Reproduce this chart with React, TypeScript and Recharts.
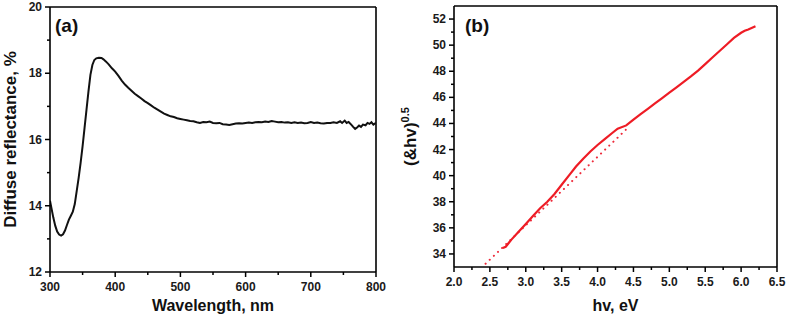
import React from 'react'
import { LineChart, Line, XAxis, YAxis, ReferenceLine, Label } from 'recharts'

const FONT = '"Liberation Sans", Arial, Helvetica, sans-serif'

// (a) diffuse reflectance spectrum
const wavelength = [
  300, 302, 305, 308, 311, 314, 317, 320, 323, 326, 329, 332, 335, 338, 341, 344, 347, 350,
  353, 356, 359, 362, 365, 368, 371, 375, 379, 382, 386, 390, 395, 400, 405, 410, 415, 420,
  425, 430, 435, 440, 445, 450, 455, 460, 465, 470, 475, 480, 485, 490, 495, 500, 505, 510,
  515, 520, 525, 530, 535, 540, 545, 550, 555, 560, 565, 570, 575, 580, 585, 590, 595, 600,
  605, 610, 615, 620, 625, 630, 635, 640, 645, 650, 655, 660, 665, 670, 675, 680, 685, 690,
  695, 700, 705, 710, 715, 720, 725, 730, 735, 740, 745, 748, 752, 755, 758, 762, 765, 768,
  771, 774, 777, 780, 784, 787, 790, 793, 796, 800,
]
const reflectance = [
  14.15, 13.95, 13.65, 13.4, 13.22, 13.13, 13.1, 13.14, 13.25, 13.42, 13.58, 13.7, 13.82, 14.05,
  14.45, 14.85, 15.3, 15.8, 16.35, 16.9, 17.45, 17.95, 18.25, 18.4, 18.45, 18.47, 18.46, 18.42,
  18.35, 18.27, 18.15, 18.05, 17.92, 17.78, 17.66, 17.56, 17.47, 17.38, 17.31, 17.24, 17.16,
  17.1, 17.03, 16.96, 16.9, 16.84, 16.78, 16.74, 16.7, 16.68, 16.64, 16.62, 16.6, 16.58, 16.56,
  16.55, 16.52, 16.5, 16.53, 16.52, 16.54, 16.5, 16.49, 16.5, 16.46, 16.45, 16.44, 16.46, 16.48,
  16.49, 16.48, 16.5, 16.51, 16.5, 16.52, 16.53, 16.52, 16.54, 16.53, 16.56, 16.54, 16.52,
  16.53, 16.51, 16.52, 16.5, 16.52, 16.5, 16.51, 16.49, 16.5, 16.53, 16.5, 16.51, 16.49, 16.48,
  16.5, 16.5, 16.52, 16.5, 16.55, 16.5, 16.57, 16.5, 16.53, 16.45, 16.38, 16.32, 16.36, 16.42,
  16.38, 16.45, 16.43, 16.5, 16.47, 16.52, 16.45, 16.5,
]
const aXMajor = [300, 400, 500, 600, 700, 800]
const aXMinor = [350, 450, 550, 650, 750]
const aYMajor = [12, 14, 16, 18, 20]
const aYMinor = [13, 15, 17, 19]

// (b) Tauc plot
const photonEnergy = [
  2.68, 2.72, 2.8, 2.9, 3.0, 3.1, 3.2, 3.3, 3.4, 3.5, 3.6, 3.7, 3.8, 3.9, 4.0, 4.1, 4.2, 4.28,
  4.4, 4.5, 4.6, 4.7, 4.8, 4.9, 5.0, 5.1, 5.2, 5.3, 5.4, 5.5, 5.6, 5.7, 5.8, 5.9, 6.0, 6.05,
  6.1, 6.2,
]
const taucValue = [
  34.45, 34.55, 35.1, 35.7, 36.3, 36.9, 37.5, 38.0, 38.6, 39.3, 40.0, 40.7, 41.3, 41.85, 42.35,
  42.8, 43.25, 43.6, 43.85, 44.3, 44.72, 45.12, 45.53, 45.94, 46.36, 46.77, 47.18, 47.6, 48.05,
  48.55, 49.05, 49.55, 50.05, 50.55, 50.95, 51.1, 51.2, 51.45,
]
const fitEnergy = [2.44, 4.42]
const fitValue = [33.25, 43.65]
const bXMajor = [2, 2.5, 3, 3.5, 4, 4.5, 5, 5.5, 6, 6.5]
const bXMinor = [2.25, 2.75, 3.25, 3.75, 4.25, 4.75, 5.25, 5.75, 6.25]
const bYMajor = [34, 36, 38, 40, 42, 44, 46, 48, 50, 52]
const bYMinor = [35, 37, 39, 41, 43, 45, 47, 49, 51]

const aData = wavelength.map((w, i) => ({ x: w, y: reflectance[i] }))
const bData = photonEnergy.map((e, i) => ({ x: e, y: taucValue[i] }))
const fitData = fitEnergy.map((e, i) => ({ x: e, y: fitValue[i] }))

const isIn = (list: number[], v: number) => list.some((m) => Math.abs(m - v) < 1e-6)

const tickText = { fontSize: 12, fontWeight: 'bold' as const, fontFamily: FONT, fill: '#1a1a1a' }
const titleText = { fontWeight: 'bold' as const, fontFamily: FONT, fill: '#111' }

const makeXTick = (majors: number[], fmt: (v: number) => string) => (props: any) => {
  const { x, y, payload } = props
  const major = isIn(majors, payload.value)
  return (
    <g>
      <line x1={x} x2={x} y1={y} y2={y + (major ? 5 : 3)} stroke="#000" strokeWidth={1.5} />
      {major && (
        <text x={x} y={y + 19} textAnchor="middle" {...tickText}>
          {fmt(payload.value)}
        </text>
      )}
    </g>
  )
}

const makeYTick = (majors: number[]) => (props: any) => {
  const { x, y, payload } = props
  const major = isIn(majors, payload.value)
  return (
    <g>
      <line x1={x} x2={x - (major ? 5 : 3)} y1={y} y2={y} stroke="#000" strokeWidth={1.5} />
      {major && (
        <text x={x - 8} y={y + 4} textAnchor="end" {...tickText}>
          {String(payload.value)}
        </text>
      )}
    </g>
  )
}

const TaucTitle = (props: any) => {
  const { viewBox } = props
  const cx = viewBox.x + 10
  const cy = viewBox.y + viewBox.height / 2
  return (
    <text
      x={cx}
      y={cy + 6}
      transform={`rotate(-90 ${cx} ${cy})`}
      textAnchor="middle"
      fontSize={17}
      {...titleText}
    >
      {'(&hv)'}
      <tspan dy={-7} fontSize={11}>
        0.5
      </tspan>
    </text>
  )
}

const axisLine = { stroke: '#000', strokeWidth: 1.6 }

const ReflectanceChart = () => (
  <LineChart width={400} height={317} margin={{ top: 7, right: 24, bottom: 0, left: 0 }}>
    <XAxis
      type="number"
      dataKey="x"
      domain={[300, 800]}
      ticks={[...aXMajor, ...aXMinor].sort((p, q) => p - q)}
      interval={0}
      tickSize={0}
      tickMargin={0}
      tickLine={false}
      axisLine={axisLine}
      tick={makeXTick(aXMajor, (v) => String(v))}
      height={45}
      allowDataOverflow
    >
      <Label value="Wavelength, nm" position="insideBottom" offset={6} style={{ ...titleText, fontSize: 16 }} />
    </XAxis>
    <YAxis
      type="number"
      domain={[12, 20]}
      ticks={[...aYMajor, ...aYMinor].sort((p, q) => p - q)}
      interval={0}
      tickSize={0}
      tickMargin={0}
      tickLine={false}
      axisLine={axisLine}
      tick={makeYTick(aYMajor)}
      width={50}
      allowDataOverflow
    >
      <Label
        value="Diffuse reflectance, %"
        angle={-90}
        position="insideLeft"
        offset={10}
        style={{ ...titleText, fontSize: 17, textAnchor: 'middle' }}
      />
    </YAxis>
    <ReferenceLine y={20} stroke="#000" strokeWidth={1.6} />
    <ReferenceLine x={800} stroke="#000" strokeWidth={1.6} />
    <Line
      data={aData}
      dataKey="y"
      type="linear"
      stroke="#111"
      strokeWidth={2}
      dot={false}
      isAnimationActive={false}
    />
  </LineChart>
)

const TaucChart = () => (
  <LineChart width={387} height={317} margin={{ top: 6, right: 10, bottom: 0, left: 0 }}>
    <XAxis
      type="number"
      dataKey="x"
      domain={[2, 6.5]}
      ticks={[...bXMajor, ...bXMinor].sort((p, q) => p - q)}
      interval={0}
      tickSize={0}
      tickMargin={0}
      tickLine={false}
      axisLine={axisLine}
      tick={makeXTick(bXMajor, (v) => v.toFixed(1))}
      height={50}
      allowDataOverflow
    >
      <Label value="hv, eV" position="insideBottom" offset={6} style={{ ...titleText, fontSize: 16 }} />
    </XAxis>
    <YAxis
      type="number"
      domain={[33, 53]}
      ticks={[...bYMajor, ...bYMinor].sort((p, q) => p - q)}
      interval={0}
      tickSize={0}
      tickMargin={0}
      tickLine={false}
      axisLine={axisLine}
      tick={makeYTick(bYMajor)}
      width={54}
      allowDataOverflow
    >
      <Label content={<TaucTitle />} />
    </YAxis>
    <ReferenceLine y={53} stroke="#000" strokeWidth={1.6} />
    <ReferenceLine x={6.5} stroke="#000" strokeWidth={1.6} />
    <Line
      data={fitData}
      dataKey="y"
      type="linear"
      stroke="#ee2a3a"
      strokeWidth={2}
      strokeDasharray="0.1 5.6"
      strokeLinecap="round"
      dot={false}
      isAnimationActive={false}
    />
    <Line
      data={bData}
      dataKey="y"
      type="linear"
      stroke="#ee1c25"
      strokeWidth={2.2}
      dot={false}
      isAnimationActive={false}
    />
  </LineChart>
)

export default function App() {
  return (
    <div style={{ position: 'absolute', left: 0, top: 0, width: 787, height: 317, background: '#fff' }}>
      <div style={{ position: 'absolute', left: 0, top: 0 }}>
        <ReflectanceChart />
      </div>
      <div style={{ position: 'absolute', left: 400, top: 0 }}>
        <TaucChart />
      </div>
      <svg
        width={787}
        height={317}
        style={{ position: 'absolute', left: 0, top: 0, pointerEvents: 'none' }}
      >
        <text x={55} y={32} fontSize={19} {...titleText}>
          (a)
        </text>
        <text x={465} y={32} fontSize={19} {...titleText}>
          (b)
        </text>
      </svg>
    </div>
  )
}
